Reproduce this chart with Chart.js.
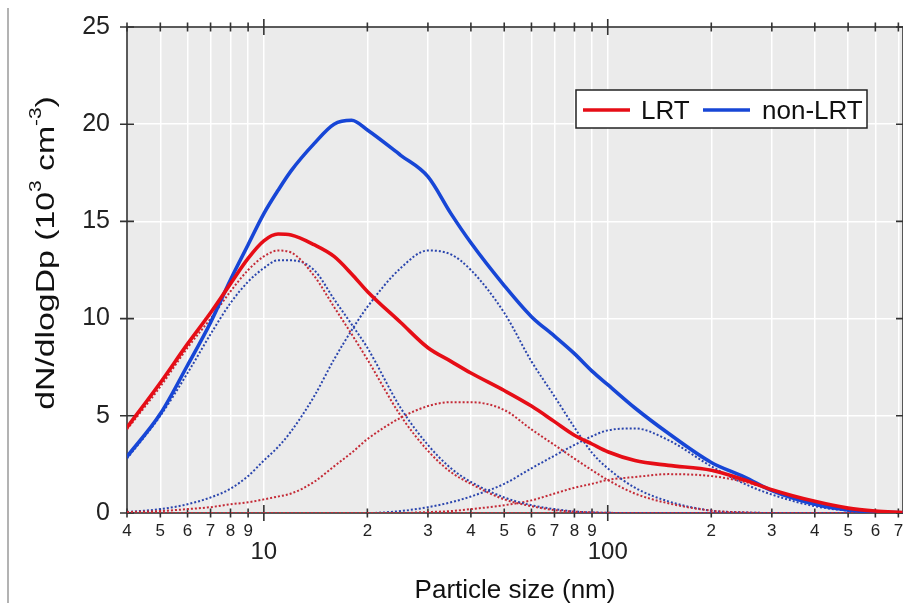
<!DOCTYPE html>
<html>
<head>
<meta charset="utf-8">
<title>Particle size distribution: LRT vs non-LRT</title>
<script src="https://cdn.jsdelivr.net/npm/chart.js@4.4.1/dist/chart.umd.min.js"></script>
<style>
    html, body { margin: 0; padding: 0; background: #fff; }
    #wrap { width: 903px; height: 603px; }
</style>
</head>
<body>
<div id="wrap"><canvas id="psdChart" width="903" height="603"></canvas></div>
<script>
// Data (dN/dlogDp in 10^3 cm^-3)
const sizes        = [4, 5, 6, 7, 8, 9, 10, 11, 12, 14, 16, 18, 20, 25, 30, 35, 40, 50, 60, 70, 80, 90, 100, 120, 150, 200, 250, 300, 400, 500, 600, 720];
const lrtTotal     = [4.4, 6.7, 8.7, 10.3, 11.8, 13.1, 14.0, 14.35, 14.3, 13.8, 13.2, 12.3, 11.4, 9.8, 8.5, 7.8, 7.2, 6.3, 5.5, 4.7, 4.0, 3.55, 3.15, 2.7, 2.45, 2.2, 1.7, 1.2, 0.6, 0.25, 0.1, 0.02];
const nonLrtTotal  = [2.9, 5.1, 7.6, 9.8, 12.0, 13.8, 15.4, 16.6, 17.6, 19.0, 20.0, 20.2, 19.7, 18.4, 17.3, 15.4, 13.9, 11.7, 10.1, 9.1, 8.2, 7.3, 6.6, 5.4, 4.1, 2.6, 1.85, 1.15, 0.45, 0.15, 0.05, 0.01];
const lrtMode1     = [4.3, 6.5, 8.5, 10.0, 11.4, 12.5, 13.2, 13.5, 13.4, 12.2, 10.6, 9.2, 7.9, 5.0, 3.2, 2.1, 1.5, 0.7, 0.35, 0.15, 0.07, 0.03, 0.01, 0, 0, 0, 0, 0, 0, 0, 0, 0];
const lrtMode2     = [0.05, 0.1, 0.2, 0.3, 0.45, 0.55, 0.7, 0.85, 1.0, 1.6, 2.4, 3.1, 3.8, 4.9, 5.5, 5.7, 5.7, 5.3, 4.3, 3.5, 2.8, 2.2, 1.7, 1.0, 0.5, 0.12, 0.03, 0, 0, 0, 0, 0];
const lrtMode3     = [0, 0, 0, 0, 0, 0, 0, 0, 0, 0, 0, 0, 0, 0, 0.05, 0.1, 0.2, 0.4, 0.65, 1.0, 1.3, 1.5, 1.7, 1.85, 2.0, 1.9, 1.6, 1.2, 0.55, 0.22, 0.08, 0.02];
const lrtMode4     = [0, 0, 0, 0, 0, 0, 0, 0, 0, 0, 0, 0, 0, 0, 0, 0, 0, 0, 0, 0, 0, 0, 0, 0, 0, 0, 0, 0, 0, 0, 0, 0];
const nonLrtMode1  = [2.8, 5.0, 7.2, 9.2, 10.8, 11.9, 12.6, 13.0, 13.0, 12.5, 11.0, 9.7, 8.5, 5.4, 3.5, 2.3, 1.6, 0.8, 0.4, 0.2, 0.08, 0.03, 0.01, 0, 0, 0, 0, 0, 0, 0, 0, 0];
const nonLrtMode2  = [0.05, 0.2, 0.45, 0.8, 1.25, 1.9, 2.7, 3.4, 4.2, 6.0, 7.9, 9.4, 10.6, 12.6, 13.5, 13.3, 12.5, 10.3, 7.8, 6.0, 4.4, 3.1, 2.3, 1.3, 0.6, 0.12, 0.03, 0, 0, 0, 0, 0];
const nonLrtMode3  = [0, 0, 0, 0, 0, 0, 0, 0, 0, 0, 0, 0, 0, 0.1, 0.3, 0.55, 0.85, 1.5, 2.3, 2.95, 3.5, 3.95, 4.25, 4.35, 3.75, 2.4, 1.5, 0.95, 0.35, 0.12, 0.04, 0.01];

// Axis ticks
const xTickVals   = [4, 5, 6, 7, 8, 9, 10, 20, 30, 40, 50, 60, 70, 80, 90, 100, 200, 300, 400, 500, 600, 700];
const xTickLabels = ['4', '5', '6', '7', '8', '9', '10', '2', '3', '4', '5', '6', '7', '8', '9', '100', '2', '3', '4', '5', '6', '7'];
const xMajor      = [10, 100];
const yTickVals   = [0, 5, 10, 15, 20, 25];

const FONT = "'Liberation Sans', Arial, Helvetica, sans-serif";
const RED = '#e60d16', BLUE = '#1746d6';
const RED_DOT = '#c42a36', BLUE_DOT = '#2a45ad';

const toPoints = arr => sizes.map((s, i) => ({ x: s, y: arr[i] }));
const solid = (label, arr, color) => ({
    label, data: toPoints(arr), borderColor: color, borderWidth: 3.6,
    pointRadius: 0, fill: false, cubicInterpolationMode: 'monotone'
});
const dotted = (label, arr, color) => ({
    label, data: toPoints(arr), borderColor: color, borderWidth: 2,
    borderDash: [2, 2], pointRadius: 0, fill: false, cubicInterpolationMode: 'monotone'
});

// Background, frame, ticks, titles and legend
const framePlugin = {
    id: 'frame',
    beforeDraw(chart) {
        const { ctx, chartArea: a } = chart;
        ctx.save();
        ctx.fillStyle = '#fff';
        ctx.fillRect(0, 0, chart.width, chart.height);
        ctx.fillStyle = '#ebebeb';
        ctx.fillRect(a.left, a.top, a.right - a.left, a.bottom - a.top);
        ctx.strokeStyle = '#9a9a9a';
        ctx.lineWidth = 1.5;
        ctx.beginPath();
        ctx.moveTo(8, 8);
        ctx.lineTo(8, chart.height);
        ctx.stroke();
        ctx.restore();
    },
    beforeDatasetsDraw(chart) {
        const { ctx, chartArea: a, scales } = chart;
        const line = (x1, y1, x2, y2) => { ctx.moveTo(x1, y1); ctx.lineTo(x2, y2); };
        ctx.save();
        ctx.strokeStyle = '#333';
        ctx.lineWidth = 1.6;
        ctx.strokeRect(a.left, a.top, a.right - a.left, a.bottom - a.top);
        ctx.beginPath();
        xTickVals.forEach(v => {
            const px = scales.x.getPixelForValue(v);
            const h = xMajor.includes(v) ? 8 : 4.5;
            line(px, a.bottom - h, px, a.bottom + h);
            line(px, a.top - h, px, a.top + h);
        });
        yTickVals.forEach(v => {
            const py = scales.y.getPixelForValue(v);
            line(a.left - 7, py, a.left + 7, py);
            line(a.right - 7, py, a.right + 7, py);
        });
        ctx.stroke();
        ctx.restore();
    },
    afterDraw(chart) {
        const { ctx } = chart;
        ctx.save();
        ctx.fillStyle = '#111';

        // x title
        ctx.font = '26px ' + FONT;
        ctx.textAlign = 'center';
        ctx.textBaseline = 'alphabetic';
        ctx.fillText('Particle size (nm)', 515, 598);

        // y title with superscripts, stretched along its length like the original
        const parts = [
            ['dN/dlogDp (10', 26, 0], ['3', 16, -13], [' cm', 26, 0], ['-3', 16, -13], [')', 26, 0]
        ];
        const stretch = 1.3;
        let total = 0;
        parts.forEach(p => { ctx.font = p[1] + 'px ' + FONT; total += ctx.measureText(p[0]).width; });
        ctx.translate(54, 253 + total * stretch / 2);
        ctx.rotate(-Math.PI / 2);
        ctx.scale(stretch, 1);
        ctx.textAlign = 'left';
        let x = 0;
        parts.forEach(p => {
            ctx.font = p[1] + 'px ' + FONT;
            ctx.fillText(p[0], x, p[2]);
            x += ctx.measureText(p[0]).width;
        });
        ctx.restore();

        // legend
        ctx.save();
        ctx.fillStyle = '#fff';
        ctx.fillRect(576, 90, 291, 38);
        ctx.strokeStyle = '#222';
        ctx.lineWidth = 1.5;
        ctx.strokeRect(576, 90, 291, 38);
        ctx.font = '26px ' + FONT;
        ctx.textBaseline = 'alphabetic';
        const items = [[chart.data.datasets[0], 583, 641], [chart.data.datasets[1], 703, 762]];
        items.forEach(([ds, lx, tx]) => {
            ctx.strokeStyle = ds.borderColor;
            ctx.lineWidth = 3.6;
            ctx.beginPath();
            ctx.moveTo(lx, 110);
            ctx.lineTo(lx + 47, 110);
            ctx.stroke();
            ctx.fillStyle = '#111';
            ctx.fillText(ds.label, tx, 119);
        });
        ctx.restore();
    }
};

// Chart
new Chart(document.getElementById('psdChart'), {
    type: 'line',
    data: {
        datasets: [
            solid('LRT', lrtTotal, RED),
            solid('non-LRT', nonLrtTotal, BLUE),
            dotted('LRT mode 1', lrtMode1, RED_DOT),
            dotted('non-LRT mode 1', nonLrtMode1, BLUE_DOT),
            dotted('LRT mode 2', lrtMode2, RED_DOT),
            dotted('non-LRT mode 2', nonLrtMode2, BLUE_DOT),
            dotted('LRT mode 3', lrtMode3, RED_DOT),
            dotted('non-LRT mode 3', nonLrtMode3, BLUE_DOT),
            dotted('LRT mode 4', lrtMode4, RED_DOT)
        ]
    },
    options: {
        responsive: false,
        animation: false,
        devicePixelRatio: 1,
        layout: { padding: { top: 27, right: 0, left: 0, bottom: 0 } },
        plugins: { legend: { display: false }, tooltip: { enabled: false } },
        scales: {
            x: {
                type: 'logarithmic',
                min: 4,
                max: 722,
                bounds: 'data',
                afterBuildTicks: s => { s.ticks = xTickVals.map(v => ({ value: v, major: xMajor.includes(v) })); },
                afterFit: s => { s.height = 90; s.paddingLeft = 0; s.paddingRight = 0; },
                grid: { color: '#fff', lineWidth: 1.5, drawTicks: false },
                border: { display: false },
                ticks: {
                    autoSkip: false,
                    maxRotation: 0,
                    minRotation: 0,
                    padding: 8,
                    color: '#222',
                    font: c => (c.tick && xMajor.includes(c.tick.value))
                        ? { family: FONT, size: 24, lineHeight: 0.86 }
                        : { family: FONT, size: 17 },
                    callback: (v, i) => xMajor.includes(v) ? ['', xTickLabels[i]] : xTickLabels[i]
                }
            },
            y: {
                min: 0,
                max: 25,
                afterBuildTicks: s => { s.ticks = yTickVals.map(v => ({ value: v })); },
                afterFit: s => { s.width = 127; s.paddingTop = 0; s.paddingBottom = 0; },
                grid: { color: '#fff', lineWidth: 1.5, drawTicks: false },
                border: { display: false },
                ticks: { padding: 17, color: '#222', font: { family: FONT, size: 25 } }
            }
        }
    },
    plugins: [framePlugin]
});
</script>
</body>
</html>
